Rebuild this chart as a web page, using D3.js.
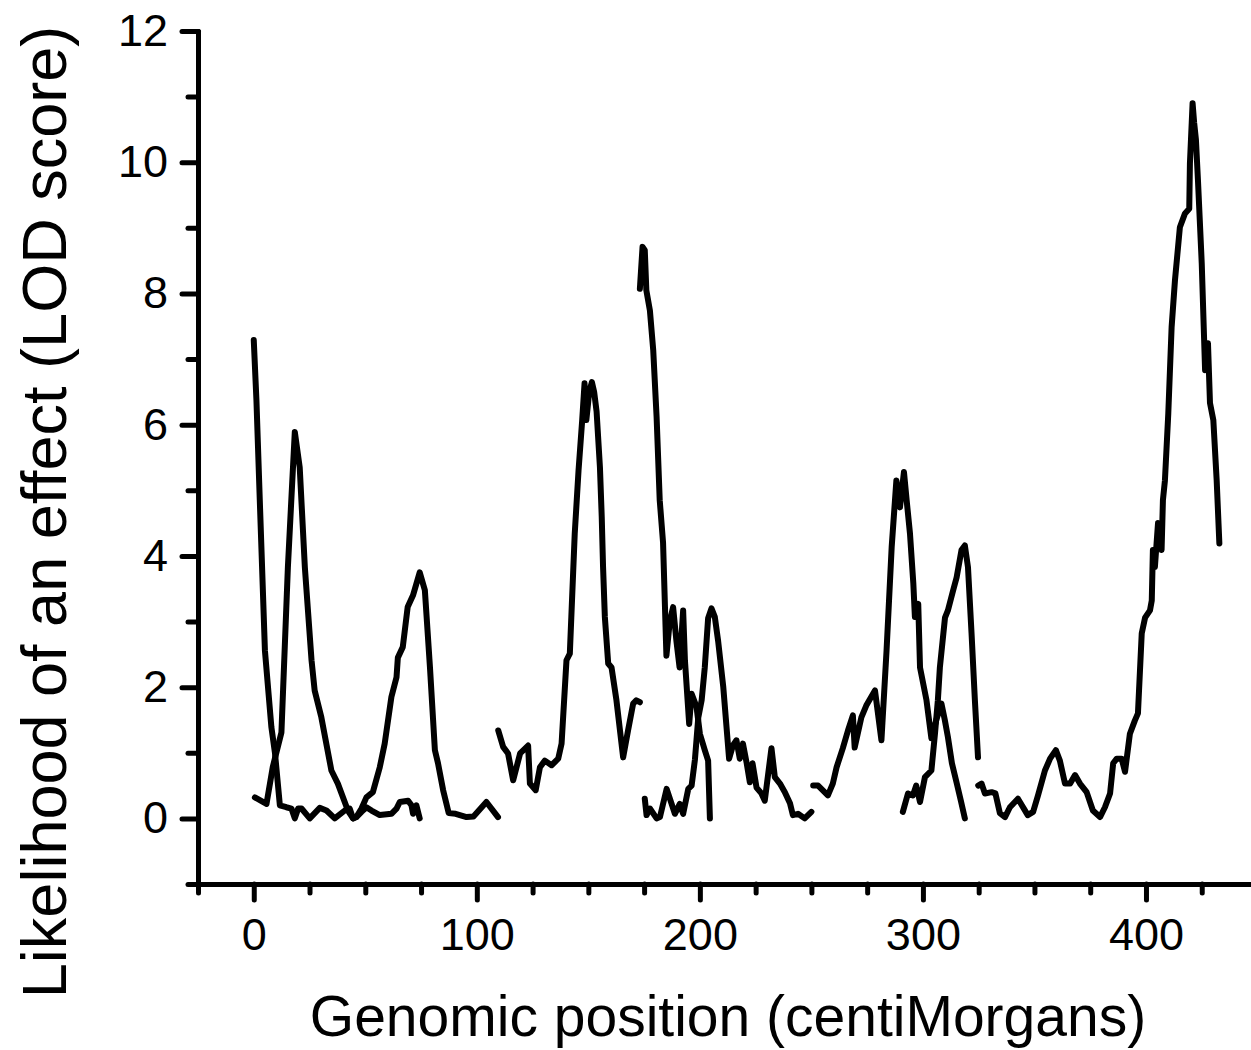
<!DOCTYPE html>
<html>
<head>
<meta charset="utf-8">
<script src="https://cdn.jsdelivr.net/npm/d3@7"></script>
<style>
  html, body { margin: 0; padding: 0; background: #fff; }
  svg { display: block; }
  text { font-family: "Liberation Sans", Arial, sans-serif; fill: #000; }
</style>
</head>
<body>
<svg id="chart" width="1251" height="1050"></svg>
<script>
// ---- Data (position in cM, LOD score) ----
const segA = [[0,7.29],[1.2,6.37],[2.7,4.85],[5.0,2.56],[7.9,1.39],[9.5,1.0],[11.7,0.2],[14.6,0.17],[16.9,0.15],[18.4,0],[19.9,0.15],[21.4,0.15],[25.1,0],[29.6,0.16],[32.6,0.12],[36.3,0],[40.8,0.12],[43,0.15],[44.5,0],[46,0.02],[48.3,0.1],[50.5,0.17],[52.8,0.12],[56.5,0.05],[61.7,0.07],[64,0.15],[65.5,0.25],[69.2,0.27],[70.7,0.2],[71.4,0.07],[72.9,0.2],[74.4,0]];
const segB = [[0.5,0.32],[5.7,0.22],[8.5,0.78],[12.4,1.31],[15.3,3.83],[18.4,5.89],[20.6,5.35],[22.9,3.83],[25.9,2.41],[27.3,1.95],[30.3,1.54],[34.8,0.73],[37.7,0.53],[42.2,0.12],[44.5,0],[46,0.02],[48.3,0.15],[50.5,0.32],[53.4,0.4],[56.5,0.78],[58.7,1.14],[61.7,1.85],[64,2.15],[64.6,2.45],[66.8,2.61],[69,3.22],[71.4,3.4],[74.4,3.75],[76.7,3.48],[79,2.3],[81.2,1.04],[82.6,0.84],[84.9,0.43],[87.4,0.08],[90.5,0.07],[95.4,0.02],[98.5,0.03],[104.3,0.25],[109.5,0.02]];
const segD = [[109.6,1.34],[111.8,1.09],[114,0.99],[116.3,0.58],[119.4,0.99],[123,1.11],[123.8,0.53],[126.4,0.43],[128.3,0.78],[130.5,0.88],[133.5,0.81],[136.5,0.91],[138,1.14],[140.2,2.41],[141.7,2.51],[143.9,4.34],[145.6,5.3],[147.2,6.05],[148.3,6.63],[149.1,6.07],[150.4,6.5],[151.6,6.65],[152.6,6.5],[153.7,6.2],[155.2,5.35],[156,4.6],[156.6,3.83],[157.4,3.07],[158.9,2.36],[160.4,2.3],[162.6,1.8],[165.6,0.93],[167.8,1.34],[170.1,1.75],[171.5,1.8],[173.1,1.77]];
const segE = [[173.1,8.07],[174.3,8.71],[175.3,8.66],[176,8.05],[177.6,7.74],[179.1,7.13],[180.6,6.12],[182,4.85],[183.5,4.2],[185,2.48],[186.5,3.0],[188,3.22],[189.5,2.7],[190.9,2.3],[192.5,3.17],[193.3,2.41],[195.2,1.44],[196.3,1.9],[198.5,1.7],[200,1.29],[202.2,1.04],[203.7,0.88],[204.5,0]];
const segF = [[175.3,0.3],[176.1,0.05],[177.6,0.15],[180.6,0],[182.1,0.02],[185.1,0.45],[188.8,0.07],[191,0.22],[192.5,0.07],[194.8,0.45],[196.3,0.5],[197.8,0.9],[199.3,1.54],[200.8,1.8],[202.2,2.3],[203.7,3.05],[205.2,3.2],[206.7,3.07],[208.2,2.7],[210.5,2.0],[213.1,0.91],[214.8,1.11],[216.4,1.19],[217.9,0.91],[219.3,1.14],[221,0.84],[222.4,0.55],[223.6,0.84],[225.4,0.47],[227.6,0.38],[229.1,0.27],[232.1,1.07],[233.6,0.63],[235.9,0.53],[238.1,0.4],[240.4,0.23],[241.7,0.05],[244,0.07],[247,0],[250,0.1]];
const segG = [[250.8,0.5],[253,0.5],[257.4,0.35],[259.6,0.53],[261.3,0.78],[264.1,1.07],[266.4,1.34],[268.6,1.57],[269.4,1.08],[272.4,1.54],[274.6,1.72],[278.5,1.95],[281.4,1.19],[283.7,2.56],[286,4.14],[288.1,5.15],[289.7,4.74],[291.5,5.28],[292.7,4.85],[294.2,4.34],[295.7,3.58],[296.4,3.07],[297.9,3.27],[298.7,2.3],[301.6,1.8],[303.8,1.22],[306,1.5],[308.3,1.75],[309.8,1.5],[311.2,1.24],[313,0.84],[315.2,0.53],[317,0.27],[318.8,0]];
const segH = [[291,0.1],[293.3,0.38],[295.5,0.35],[297,0.5],[298.7,0.25],[300.9,0.63],[303.8,0.73],[305.4,1.29],[306.7,1.8],[307.6,2.3],[309.9,3.06],[311.2,3.17],[313.5,3.47],[315.1,3.67],[317.3,4.09],[318.8,4.16],[320.2,3.83],[321.8,2.82],[323.3,1.8],[324.7,0.93]];
const segI = [[324.8,0.5],[326.3,0.53],[327.8,0.38],[330.8,0.4],[332.5,0.38],[334.5,0.08],[336.8,0.02],[339,0.17],[342.6,0.3],[347,0.05],[349.4,0.1],[351.6,0.35],[354.7,0.73],[357,0.91],[359.6,1.04],[361.4,0.88],[363.7,0.53],[366,0.53],[368.2,0.66],[370.4,0.53],[373.4,0.4],[376.2,0.12],[379.4,0.02],[381.6,0.17],[383.9,0.38],[385.3,0.84],[386.9,0.91],[389.1,0.91],[390.6,0.71],[392.8,1.29],[395,1.49],[396.4,1.6],[398.1,2.82],[399.6,3.06],[401.8,3.17],[402.6,3.32],[403.1,4.09],[404,3.83],[405.4,4.5],[407,4.09],[407.6,4.85],[408.5,5.15],[410,6.17],[411.5,7.49],[413,8.2],[415.2,9.01],[417.5,9.22],[419.4,9.29],[419.7,9.98],[420.9,10.9],[421.6,10.6],[422.4,10.34],[423.3,9.73],[425,8.46],[426.5,6.83],[427.8,7.24],[428.7,6.33],[430.2,6.07],[431.7,5.15],[432.9,4.19]];
const segments = [segA, segB, segD, segE, segF, segG, segH, segI];

const xMajorTicks = [0, 100, 200, 300, 400];
const xMinorTicks = [-25, 25, 50, 75, 125, 150, 175, 225, 250, 275, 325, 350, 375, 425];
const yMajorTicks = [0, 2, 4, 6, 8, 10, 12];
const yMinorTicks = [-1, 1, 3, 5, 7, 9, 11];
const xTitle = "Genomic position (centiMorgans)";
const yTitle = "Likelihood of an effect (LOD score)";

// ---- Drawing ----
const svg = d3.select("#chart");
svg.append("rect").attr("width", 1251).attr("height", 1050).attr("fill", "#fff");

const x = d3.scaleLinear().domain([-25, 450]).range([198, 1257.5]);
const y = d3.scaleLinear().domain([-1, 12]).range([884, 31]);

const line = d3.line().x(d => x(d[0])).y(d => y(d[1]));
svg.append("g").selectAll("path").data(segments).join("path")
  .attr("d", line)
  .attr("fill", "none")
  .attr("stroke", "#000")
  .attr("stroke-width", 6)
  .attr("stroke-linejoin", "round")
  .attr("stroke-linecap", "round");

function styleAxis(g) {
  g.select(".domain").attr("stroke", "#000").attr("stroke-width", 5).attr("stroke-linecap", "round");
  g.selectAll(".tick line").attr("stroke", "#000").attr("stroke-width", 5).attr("stroke-linecap", "round");
  g.selectAll(".tick text").attr("font-family", "'Liberation Sans', Arial, sans-serif").attr("font-size", 45).attr("fill", "#000");
}

// X axis
svg.append("g").attr("transform", `translate(0,${y(-1)})`)
  .call(d3.axisBottom(x).tickValues(xMinorTicks).tickSize(9).tickSizeOuter(0).tickFormat(""))
  .call(styleAxis);
svg.append("g").attr("transform", `translate(0,${y(-1)})`)
  .call(d3.axisBottom(x).tickValues(xMajorTicks).tickSize(16).tickSizeOuter(0).tickPadding(18).tickFormat(d3.format("d")))
  .call(styleAxis);

// Y axis
svg.append("g").attr("transform", `translate(${x(-25)},0)`)
  .call(d3.axisLeft(y).tickValues(yMinorTicks).tickSize(10).tickSizeOuter(0).tickFormat(""))
  .call(styleAxis);
svg.append("g").attr("transform", `translate(${x(-25)},0)`)
  .call(d3.axisLeft(y).tickValues(yMajorTicks).tickSize(16).tickSizeOuter(0).tickPadding(14).tickFormat(d3.format("d")))
  .call(styleAxis);

// Titles
svg.append("text")
  .attr("x", 728).attr("y", 1036)
  .attr("text-anchor", "middle")
  .attr("font-size", 57)
  .text(xTitle);

svg.append("text")
  .attr("transform", "translate(66,512) rotate(-90)")
  .attr("text-anchor", "middle")
  .attr("font-size", 63)
  .text(yTitle);
</script>
</body>
</html>
